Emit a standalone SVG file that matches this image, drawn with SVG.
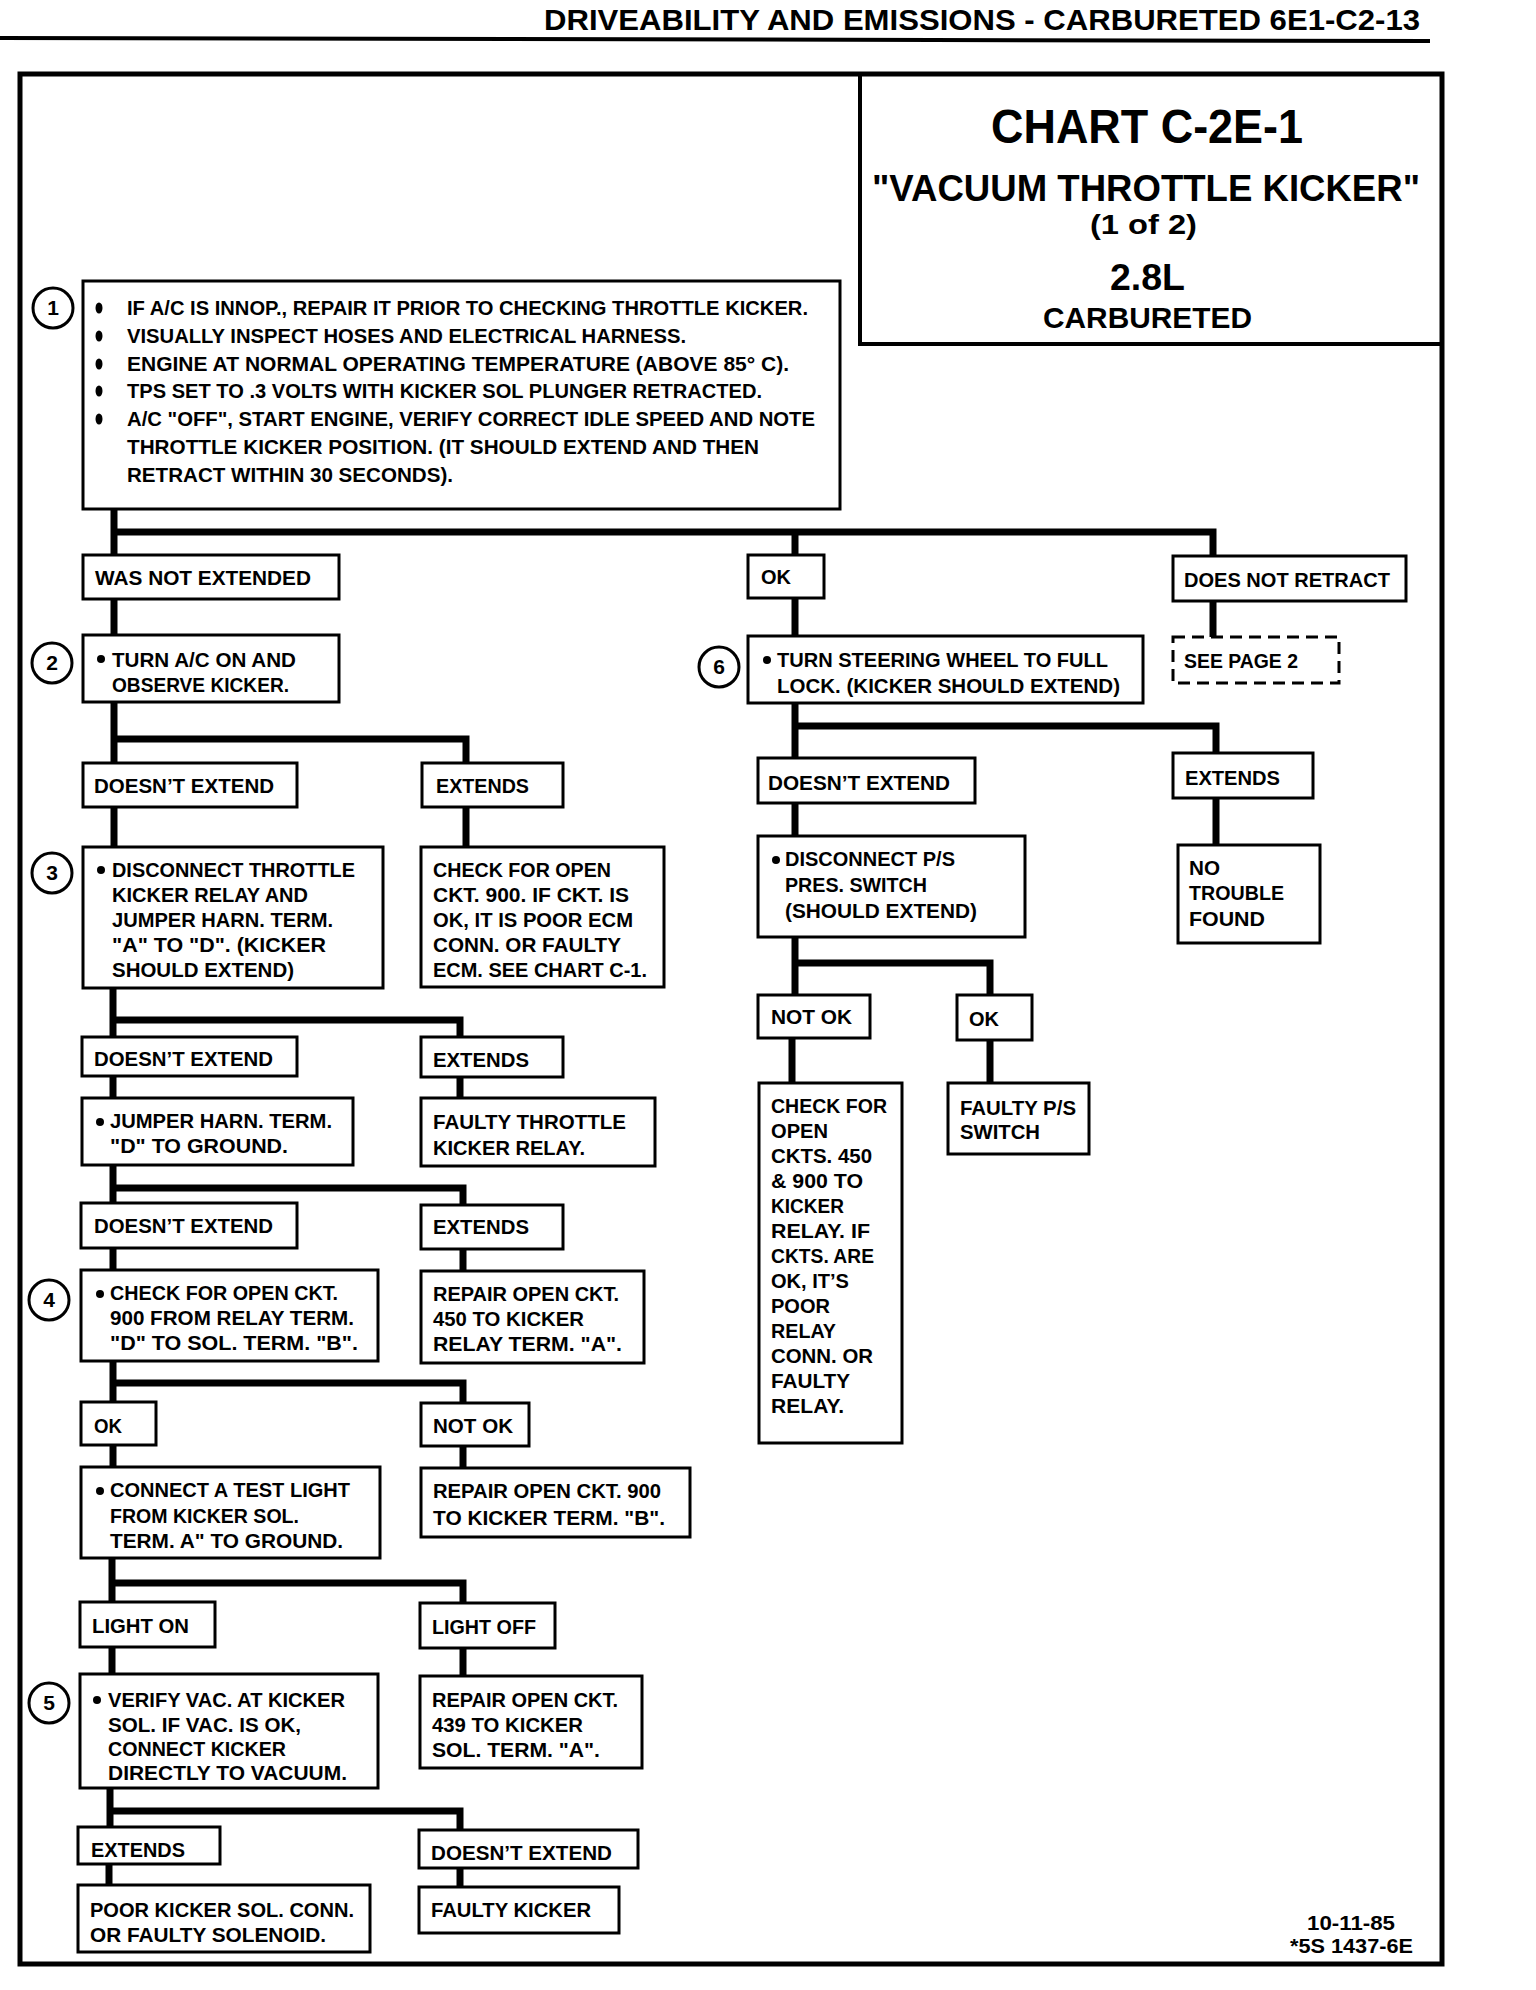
<svg xmlns="http://www.w3.org/2000/svg" width="1536" height="1990" viewBox="0 0 1536 1990">
<style>
.t{font-family:"Liberation Sans",Arial,sans-serif;font-weight:bold;font-size:21px;fill:#000}
.b{fill:#fff;stroke:#000;stroke-width:3}
.d{fill:#fff;stroke:#000;stroke-width:3;stroke-dasharray:12 7}
.c{fill:#fff;stroke:#000;stroke-width:3}
.n{font-family:"Liberation Sans",Arial,sans-serif;font-weight:bold;font-size:21px;text-anchor:middle}
.con{fill:none;stroke:#000;stroke-width:7;stroke-linejoin:miter}
</style>
<rect width="1536" height="1990" fill="#fff"/>
<g id="page">
<text class="t" x="544" y="30" style="font-size:30px" textLength="876" lengthAdjust="spacingAndGlyphs">DRIVEABILITY AND EMISSIONS - CARBURETED  6E1-C2-13</text>
<line x1="0" y1="38" x2="1430" y2="41" stroke="#000" stroke-width="4"/>
<rect x="20" y="74" width="1422" height="1890" fill="none" stroke="#000" stroke-width="5"/>
</g>
<g id="title">
<path d="M860 74 V344 H1442" fill="none" stroke="#000" stroke-width="4"/>
<text class="t" x="991" y="143" style="font-size:48px" textLength="312" lengthAdjust="spacingAndGlyphs">CHART C-2E-1</text>
<text class="t" x="872" y="201" style="font-size:36px" textLength="548" lengthAdjust="spacingAndGlyphs">"VACUUM THROTTLE KICKER"</text>
<text class="t" x="1090" y="234" style="font-size:27px" textLength="107" lengthAdjust="spacingAndGlyphs">(1 of 2)</text>
<text class="t" x="1110" y="290" style="font-size:37px" textLength="75" lengthAdjust="spacingAndGlyphs">2.8L</text>
<text class="t" x="1043" y="328" style="font-size:30px" textLength="209" lengthAdjust="spacingAndGlyphs">CARBURETED</text>
</g>
<g id="connectors">
<path class="con" d="M114 509 V555 M114 532 H1213 V556 M795 532 V555"/>
<path class="con" d="M114 599 V635 M1213 601 V637 M795 598 V636"/>
<path class="con" d="M114 702 V763 M114 739 H466 V763"/>
<path class="con" d="M114 807 V847 M466 807 V847"/>
<path class="con" d="M113 988 V1037 M113 1020 H460 V1037"/>
<path class="con" d="M113 1076 V1098 M460 1077 V1098"/>
<path class="con" d="M113 1165 V1203 M113 1188 H463 V1205"/>
<path class="con" d="M113 1248 V1270 M463 1249 V1271"/>
<path class="con" d="M113 1361 V1402 M113 1383 H463 V1403"/>
<path class="con" d="M113 1445 V1467 M463 1446 V1468"/>
<path class="con" d="M112 1558 V1602 M112 1583 H463 V1603"/>
<path class="con" d="M112 1647 V1674 M463 1648 V1676"/>
<path class="con" d="M110 1788 V1827 M110 1811 H460 V1830"/>
<path class="con" d="M109 1864 V1885 M460 1868 V1887"/>
<path class="con" d="M795 703 V758 M795 726 H1216 V753"/>
<path class="con" d="M795 803 V836 M1216 798 V845"/>
<path class="con" d="M795 937 V995 M795 963 H990 V995"/>
<path class="con" d="M792 1038 V1083 M990 1040 V1083"/>
</g>
<g id="step1">
<rect class="b" x="83" y="281" width="757" height="228"/>
<circle class="c" cx="53" cy="308" r="20"/><text class="n" x="53" y="315">1</text>
<ellipse cx="99" cy="308" rx="3.5" ry="5.5"/><ellipse cx="99" cy="336" rx="3.5" ry="5.5"/><ellipse cx="99" cy="364" rx="3.5" ry="5.5"/><ellipse cx="99" cy="391" rx="3.5" ry="5.5"/><ellipse cx="99" cy="419" rx="3.5" ry="5.5"/>
<text class="t" x="127" y="315" textLength="681" lengthAdjust="spacingAndGlyphs">IF A/C IS INNOP., REPAIR IT PRIOR TO CHECKING THROTTLE KICKER.</text>
<text class="t" x="127" y="343" textLength="559" lengthAdjust="spacingAndGlyphs">VISUALLY INSPECT HOSES AND ELECTRICAL HARNESS.</text>
<text class="t" x="127" y="371" textLength="662" lengthAdjust="spacingAndGlyphs">ENGINE AT NORMAL OPERATING TEMPERATURE (ABOVE 85° C).</text>
<text class="t" x="127" y="398" textLength="635" lengthAdjust="spacingAndGlyphs">TPS SET TO .3 VOLTS WITH KICKER SOL PLUNGER RETRACTED.</text>
<text class="t" x="127" y="426" textLength="688" lengthAdjust="spacingAndGlyphs">A/C "OFF", START ENGINE, VERIFY CORRECT IDLE SPEED AND NOTE</text>
<text class="t" x="127" y="454" textLength="632" lengthAdjust="spacingAndGlyphs">THROTTLE KICKER POSITION.  (IT SHOULD EXTEND AND THEN</text>
<text class="t" x="127" y="482" textLength="326" lengthAdjust="spacingAndGlyphs">RETRACT WITHIN 30 SECONDS).</text>
</g>
<g id="was-not-extended">
<rect class="b" x="83" y="555" width="256" height="44"/>
<text class="t" x="95" y="585" textLength="216" lengthAdjust="spacingAndGlyphs">WAS NOT EXTENDED</text>
</g>
<g id="ok-top">
<rect class="b" x="748" y="555" width="76" height="43"/>
<text class="t" x="761" y="584" textLength="30" lengthAdjust="spacingAndGlyphs">OK</text>
</g>
<g id="does-not-retract">
<rect class="b" x="1173" y="556" width="233" height="45"/>
<text class="t" x="1184" y="587" textLength="206" lengthAdjust="spacingAndGlyphs">DOES NOT RETRACT</text>
</g>
<g id="see-page-2">
<rect class="d" x="1173" y="637" width="166" height="46"/>
<text class="t" x="1184" y="668" textLength="114" lengthAdjust="spacingAndGlyphs">SEE PAGE 2</text>
</g>
<g id="step2">
<rect class="b" x="83" y="635" width="256" height="67"/>
<circle class="c" cx="52" cy="663" r="20"/><text class="n" x="52" y="670">2</text>
<circle cx="101" cy="659" r="4"/>
<text class="t" x="112" y="667" textLength="184" lengthAdjust="spacingAndGlyphs">TURN A/C ON AND</text>
<text class="t" x="112" y="692" textLength="177" lengthAdjust="spacingAndGlyphs">OBSERVE KICKER.</text>
</g>
<g id="step6">
<rect class="b" x="748" y="636" width="395" height="67"/>
<circle class="c" cx="719" cy="667" r="20"/><text class="n" x="719" y="674">6</text>
<circle cx="767" cy="660" r="4"/>
<text class="t" x="777" y="667" textLength="331" lengthAdjust="spacingAndGlyphs">TURN STEERING WHEEL TO FULL</text>
<text class="t" x="777" y="693" textLength="343" lengthAdjust="spacingAndGlyphs">LOCK.  (KICKER SHOULD EXTEND)</text>
</g>
<g id="doesnt-extend-1">
<rect class="b" x="83" y="763" width="214" height="44"/>
<text class="t" x="94" y="793" textLength="180" lengthAdjust="spacingAndGlyphs">DOESN’T EXTEND</text>
</g>
<g id="extends-1">
<rect class="b" x="422" y="763" width="141" height="44"/>
<text class="t" x="436" y="793" textLength="93" lengthAdjust="spacingAndGlyphs">EXTENDS</text>
</g>
<g id="step3">
<rect class="b" x="83" y="847" width="300" height="141"/>
<circle class="c" cx="52" cy="873" r="20"/><text class="n" x="52" y="880">3</text>
<circle cx="101" cy="870" r="4"/>
<text class="t" x="112" y="877" textLength="243" lengthAdjust="spacingAndGlyphs">DISCONNECT THROTTLE</text>
<text class="t" x="112" y="902" textLength="196" lengthAdjust="spacingAndGlyphs">KICKER RELAY AND</text>
<text class="t" x="112" y="927" textLength="221" lengthAdjust="spacingAndGlyphs">JUMPER HARN. TERM.</text>
<text class="t" x="112" y="952" textLength="214" lengthAdjust="spacingAndGlyphs">"A" TO "D".  (KICKER</text>
<text class="t" x="112" y="977" textLength="182" lengthAdjust="spacingAndGlyphs">SHOULD EXTEND)</text>
</g>
<g id="check-ckt-900">
<rect class="b" x="421" y="847" width="243" height="140"/>
<text class="t" x="433" y="877" textLength="178" lengthAdjust="spacingAndGlyphs">CHECK FOR OPEN</text>
<text class="t" x="433" y="902" textLength="196" lengthAdjust="spacingAndGlyphs">CKT. 900.  IF CKT. IS</text>
<text class="t" x="433" y="927" textLength="200" lengthAdjust="spacingAndGlyphs">OK, IT IS POOR ECM</text>
<text class="t" x="433" y="952" textLength="188" lengthAdjust="spacingAndGlyphs">CONN. OR FAULTY</text>
<text class="t" x="433" y="977" textLength="214" lengthAdjust="spacingAndGlyphs">ECM. SEE CHART C-1.</text>
</g>
<g id="doesnt-extend-r">
<rect class="b" x="758" y="758" width="217" height="45"/>
<text class="t" x="768" y="790" textLength="182" lengthAdjust="spacingAndGlyphs">DOESN’T EXTEND</text>
</g>
<g id="extends-r">
<rect class="b" x="1173" y="753" width="140" height="45"/>
<text class="t" x="1185" y="785" textLength="95" lengthAdjust="spacingAndGlyphs">EXTENDS</text>
</g>
<g id="disconnect-ps">
<rect class="b" x="758" y="836" width="267" height="101"/>
<circle cx="776" cy="860" r="4"/>
<text class="t" x="785" y="866" textLength="170" lengthAdjust="spacingAndGlyphs">DISCONNECT P/S</text>
<text class="t" x="785" y="892" textLength="142" lengthAdjust="spacingAndGlyphs">PRES. SWITCH</text>
<text class="t" x="785" y="918" textLength="192" lengthAdjust="spacingAndGlyphs">(SHOULD EXTEND)</text>
</g>
<g id="no-trouble">
<rect class="b" x="1178" y="845" width="142" height="98"/>
<text class="t" x="1189" y="875" textLength="31" lengthAdjust="spacingAndGlyphs">NO</text>
<text class="t" x="1189" y="900" textLength="95" lengthAdjust="spacingAndGlyphs">TROUBLE</text>
<text class="t" x="1189" y="926" textLength="76" lengthAdjust="spacingAndGlyphs">FOUND</text>
</g>
<g id="not-ok-r">
<rect class="b" x="758" y="995" width="112" height="43"/>
<text class="t" x="771" y="1024" textLength="81" lengthAdjust="spacingAndGlyphs">NOT OK</text>
</g>
<g id="ok-r">
<rect class="b" x="957" y="995" width="75" height="45"/>
<text class="t" x="969" y="1026" textLength="30" lengthAdjust="spacingAndGlyphs">OK</text>
</g>
<g id="check-ckts">
<rect class="b" x="759" y="1083" width="143" height="360"/>
<text class="t" x="771" y="1113" textLength="116" lengthAdjust="spacingAndGlyphs">CHECK FOR</text>
<text class="t" x="771" y="1138" textLength="57" lengthAdjust="spacingAndGlyphs">OPEN</text>
<text class="t" x="771" y="1163" textLength="101" lengthAdjust="spacingAndGlyphs">CKTS. 450</text>
<text class="t" x="771" y="1188" textLength="92" lengthAdjust="spacingAndGlyphs">&amp; 900 TO</text>
<text class="t" x="771" y="1213" textLength="73" lengthAdjust="spacingAndGlyphs">KICKER</text>
<text class="t" x="771" y="1238" textLength="99" lengthAdjust="spacingAndGlyphs">RELAY.  IF</text>
<text class="t" x="771" y="1263" textLength="103" lengthAdjust="spacingAndGlyphs">CKTS. ARE</text>
<text class="t" x="771" y="1288" textLength="78" lengthAdjust="spacingAndGlyphs">OK, IT’S</text>
<text class="t" x="771" y="1313" textLength="59" lengthAdjust="spacingAndGlyphs">POOR</text>
<text class="t" x="771" y="1338" textLength="65" lengthAdjust="spacingAndGlyphs">RELAY</text>
<text class="t" x="771" y="1363" textLength="102" lengthAdjust="spacingAndGlyphs">CONN. OR</text>
<text class="t" x="771" y="1388" textLength="79" lengthAdjust="spacingAndGlyphs">FAULTY</text>
<text class="t" x="771" y="1413" textLength="73" lengthAdjust="spacingAndGlyphs">RELAY.</text>
</g>
<g id="faulty-ps">
<rect class="b" x="948" y="1083" width="141" height="71"/>
<text class="t" x="960" y="1115" textLength="116" lengthAdjust="spacingAndGlyphs">FAULTY P/S</text>
<text class="t" x="960" y="1139" textLength="80" lengthAdjust="spacingAndGlyphs">SWITCH</text>
</g>
<g id="doesnt-extend-2">
<rect class="b" x="82" y="1037" width="215" height="39"/>
<text class="t" x="94" y="1066" textLength="179" lengthAdjust="spacingAndGlyphs">DOESN’T EXTEND</text>
</g>
<g id="extends-2">
<rect class="b" x="421" y="1037" width="142" height="40"/>
<text class="t" x="433" y="1067" textLength="96" lengthAdjust="spacingAndGlyphs">EXTENDS</text>
</g>
<g id="jumper">
<rect class="b" x="82" y="1098" width="271" height="67"/>
<circle cx="100" cy="1122" r="4"/>
<text class="t" x="110" y="1128" textLength="222" lengthAdjust="spacingAndGlyphs">JUMPER HARN. TERM.</text>
<text class="t" x="110" y="1153" textLength="178" lengthAdjust="spacingAndGlyphs">"D" TO GROUND.</text>
</g>
<g id="faulty-relay">
<rect class="b" x="421" y="1098" width="234" height="68"/>
<text class="t" x="433" y="1129" textLength="193" lengthAdjust="spacingAndGlyphs">FAULTY THROTTLE</text>
<text class="t" x="433" y="1155" textLength="152" lengthAdjust="spacingAndGlyphs">KICKER RELAY.</text>
</g>
<g id="doesnt-extend-3">
<rect class="b" x="81" y="1203" width="216" height="45"/>
<text class="t" x="94" y="1233" textLength="179" lengthAdjust="spacingAndGlyphs">DOESN’T EXTEND</text>
</g>
<g id="extends-3">
<rect class="b" x="421" y="1205" width="142" height="44"/>
<text class="t" x="433" y="1234" textLength="96" lengthAdjust="spacingAndGlyphs">EXTENDS</text>
</g>
<g id="step4">
<rect class="b" x="81" y="1270" width="297" height="91"/>
<circle class="c" cx="49" cy="1300" r="20"/><text class="n" x="49" y="1307">4</text>
<circle cx="100" cy="1294" r="4"/>
<text class="t" x="110" y="1300" textLength="228" lengthAdjust="spacingAndGlyphs">CHECK FOR OPEN CKT.</text>
<text class="t" x="110" y="1325" textLength="244" lengthAdjust="spacingAndGlyphs">900 FROM RELAY TERM.</text>
<text class="t" x="110" y="1350" textLength="248" lengthAdjust="spacingAndGlyphs">"D" TO  SOL. TERM. "B".</text>
</g>
<g id="repair-450">
<rect class="b" x="421" y="1271" width="223" height="92"/>
<text class="t" x="433" y="1301" textLength="186" lengthAdjust="spacingAndGlyphs">REPAIR OPEN CKT.</text>
<text class="t" x="433" y="1326" textLength="151" lengthAdjust="spacingAndGlyphs">450 TO KICKER</text>
<text class="t" x="433" y="1351" textLength="189" lengthAdjust="spacingAndGlyphs">RELAY TERM. "A".</text>
</g>
<g id="ok-l">
<rect class="b" x="81" y="1402" width="75" height="43"/>
<text class="t" x="94" y="1433" textLength="28" lengthAdjust="spacingAndGlyphs">OK</text>
</g>
<g id="not-ok-l">
<rect class="b" x="421" y="1403" width="108" height="43"/>
<text class="t" x="433" y="1433" textLength="80" lengthAdjust="spacingAndGlyphs">NOT OK</text>
</g>
<g id="test-light">
<rect class="b" x="81" y="1467" width="299" height="91"/>
<circle cx="100" cy="1491" r="4"/>
<text class="t" x="110" y="1497" textLength="240" lengthAdjust="spacingAndGlyphs">CONNECT A TEST LIGHT</text>
<text class="t" x="110" y="1523" textLength="189" lengthAdjust="spacingAndGlyphs">FROM KICKER SOL.</text>
<text class="t" x="110" y="1548" textLength="233" lengthAdjust="spacingAndGlyphs">TERM. A" TO GROUND.</text>
</g>
<g id="repair-900">
<rect class="b" x="421" y="1468" width="269" height="69"/>
<text class="t" x="433" y="1498" textLength="228" lengthAdjust="spacingAndGlyphs">REPAIR OPEN CKT. 900</text>
<text class="t" x="433" y="1525" textLength="232" lengthAdjust="spacingAndGlyphs">TO KICKER  TERM. "B".</text>
</g>
<g id="light-on">
<rect class="b" x="80" y="1602" width="135" height="45"/>
<text class="t" x="92" y="1633" textLength="97" lengthAdjust="spacingAndGlyphs">LIGHT ON</text>
</g>
<g id="light-off">
<rect class="b" x="420" y="1603" width="135" height="45"/>
<text class="t" x="432" y="1634" textLength="104" lengthAdjust="spacingAndGlyphs">LIGHT OFF</text>
</g>
<g id="step5">
<rect class="b" x="80" y="1674" width="298" height="114"/>
<circle class="c" cx="49" cy="1703" r="20"/><text class="n" x="49" y="1710">5</text>
<circle cx="97" cy="1700" r="4"/>
<text class="t" x="108" y="1707" textLength="237" lengthAdjust="spacingAndGlyphs">VERIFY VAC. AT KICKER</text>
<text class="t" x="108" y="1732" textLength="193" lengthAdjust="spacingAndGlyphs">SOL.  IF VAC. IS OK,</text>
<text class="t" x="108" y="1756" textLength="178" lengthAdjust="spacingAndGlyphs">CONNECT KICKER</text>
<text class="t" x="108" y="1780" textLength="239" lengthAdjust="spacingAndGlyphs">DIRECTLY TO VACUUM.</text>
</g>
<g id="repair-439">
<rect class="b" x="420" y="1676" width="222" height="92"/>
<text class="t" x="432" y="1707" textLength="186" lengthAdjust="spacingAndGlyphs">REPAIR OPEN CKT.</text>
<text class="t" x="432" y="1732" textLength="151" lengthAdjust="spacingAndGlyphs">439 TO KICKER</text>
<text class="t" x="432" y="1757" textLength="168" lengthAdjust="spacingAndGlyphs">SOL. TERM. "A".</text>
</g>
<g id="extends-5">
<rect class="b" x="78" y="1827" width="142" height="37"/>
<text class="t" x="91" y="1857" textLength="94" lengthAdjust="spacingAndGlyphs">EXTENDS</text>
</g>
<g id="doesnt-extend-5">
<rect class="b" x="419" y="1830" width="219" height="38"/>
<text class="t" x="431" y="1860" textLength="181" lengthAdjust="spacingAndGlyphs">DOESN’T EXTEND</text>
</g>
<g id="poor-conn">
<rect class="b" x="78" y="1885" width="292" height="67"/>
<text class="t" x="90" y="1917" textLength="264" lengthAdjust="spacingAndGlyphs">POOR KICKER SOL. CONN.</text>
<text class="t" x="90" y="1942" textLength="236" lengthAdjust="spacingAndGlyphs">OR FAULTY SOLENOID.</text>
</g>
<g id="faulty-kicker">
<rect class="b" x="419" y="1887" width="200" height="46"/>
<text class="t" x="431" y="1917" textLength="160" lengthAdjust="spacingAndGlyphs">FAULTY KICKER</text>
</g>
<g id="footer">
<text class="t" x="1307" y="1930" style="font-size:20px" textLength="88" lengthAdjust="spacingAndGlyphs">10-11-85</text>
<text class="t" x="1290" y="1953" style="font-size:20px" textLength="123" lengthAdjust="spacingAndGlyphs">*5S 1437-6E</text>
</g>
</svg>
